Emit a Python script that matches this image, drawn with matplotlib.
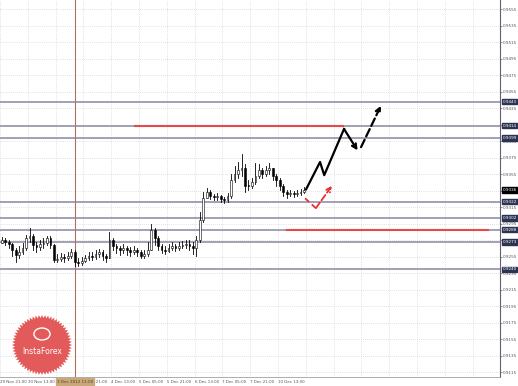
import numpy as np
import matplotlib.pyplot as plt
from matplotlib.patches import Rectangle, Polygon, Circle
import matplotlib.transforms as mtransforms

plt.rcParams['font.family'] = ['Liberation Sans Narrow', 'DejaVu Sans']

# price data (2h bars)
first_open = 0.9272
closes = [0.9275, 0.9273, 0.9271, 0.9263, 0.9257, 0.9261, 0.9266, 0.9278, 0.9280, 0.9269,
          0.9267, 0.9271, 0.9272, 0.9278, 0.9269, 0.9251, 0.9252, 0.9255, 0.9254, 0.9256,
          0.9261, 0.9249, 0.9248, 0.9250, 0.9254, 0.9256, 0.9255, 0.9258, 0.9261, 0.9256,
          0.9254, 0.9275, 0.9268, 0.9266, 0.9263, 0.9266, 0.9263, 0.9261, 0.9263, 0.9261,
          0.9256, 0.9258, 0.9263, 0.9288, 0.9278, 0.9268, 0.9263, 0.9262, 0.9266, 0.9268,
          0.9266, 0.9268, 0.9269, 0.9271, 0.9268, 0.9266, 0.9275, 0.9300, 0.9326, 0.9334,
          0.9329, 0.9328, 0.9329, 0.9325, 0.9324, 0.9329, 0.9348, 0.9355, 0.9360, 0.9363,
          0.9341, 0.9341, 0.9346, 0.9353, 0.9360, 0.9355, 0.9360, 0.9363, 0.9353, 0.9348,
          0.9341, 0.9334, 0.9331, 0.9332, 0.9331, 0.9332, 0.9334, 0.9336]
highs = [0.9279, 0.9278, 0.9275, 0.9272, 0.9266, 0.9268, 0.9272, 0.9282, 0.9290, 0.9283,
         0.9273, 0.9275, 0.9278, 0.9280, 0.9280, 0.9271, 0.9258, 0.9260, 0.9258, 0.9261,
         0.9265, 0.9263, 0.9254, 0.9255, 0.9257, 0.9261, 0.9261, 0.9263, 0.9265, 0.9263,
         0.9258, 0.9285, 0.9278, 0.9271, 0.9268, 0.9271, 0.9268, 0.9267, 0.9268, 0.9266,
         0.9263, 0.9263, 0.9273, 0.9295, 0.9290, 0.9280, 0.9271, 0.9268, 0.9271, 0.9273,
         0.9271, 0.9273, 0.9274, 0.9275, 0.9275, 0.9273, 0.9280, 0.9309, 0.9334, 0.9338,
         0.9336, 0.9331, 0.9332, 0.9330, 0.9328, 0.9332, 0.9355, 0.9365, 0.9370, 0.9380,
         0.9368, 0.9348, 0.9351, 0.9369, 0.9368, 0.9363, 0.9365, 0.9369, 0.9363, 0.9355,
         0.9351, 0.9343, 0.9336, 0.9336, 0.9335, 0.9336, 0.9337, 0.9340]
lows = [0.9272, 0.9269, 0.9266, 0.9256, 0.9249, 0.9254, 0.9258, 0.9263, 0.9273, 0.9263,
        0.9261, 0.9263, 0.9266, 0.9269, 0.9266, 0.9249, 0.9249, 0.9250, 0.9249, 0.9251,
        0.9254, 0.9244, 0.9244, 0.9245, 0.9249, 0.9251, 0.9251, 0.9252, 0.9255, 0.9251,
        0.9249, 0.9254, 0.9263, 0.9260, 0.9257, 0.9260, 0.9257, 0.9256, 0.9258, 0.9256,
        0.9254, 0.9254, 0.9256, 0.9263, 0.9269, 0.9263, 0.9260, 0.9258, 0.9261, 0.9263,
        0.9262, 0.9263, 0.9266, 0.9266, 0.9263, 0.9258, 0.9256, 0.9273, 0.9297, 0.9326,
        0.9325, 0.9324, 0.9324, 0.9321, 0.9320, 0.9321, 0.9326, 0.9346, 0.9351, 0.9353,
        0.9334, 0.9336, 0.9338, 0.9343, 0.9351, 0.9351, 0.9353, 0.9355, 0.9348, 0.9341,
        0.9336, 0.9329, 0.9326, 0.9329, 0.9328, 0.9329, 0.9330, 0.9332]
opens = [first_open] + closes[:-1]

# levels
levels = [0.9443, 0.9414, 0.9399, 0.9322, 0.9302, 0.9288, 0.9273, 0.9240]
current_price = 0.9336
red_levels = [(0.9414, 38.3, 98.2), (0.9288, 82.1, 139.9)]
cursor_bar = 21.1

# forecast paths (bar, price)
path_x = [87.6, 91.6, 92.8, 98.5, 102.4]
path_y = [0.9337, 0.9370, 0.9354, 0.9410, 0.9384]
dash_x = [103.4, 109.1]
dash_y = [0.9388, 0.9438]
red_x = [87.3, 90.4, 95.0]
red_y = [0.9326, 0.9314, 0.9341]

date_labels = ["29 Nov 21:00", "30 Nov 13:00", "3 Dec 05:00", "3 Dec 21:00", "4 Dec 13:00",
               "5 Dec 05:00", "5 Dec 21:00", "6 Dec 13:00", "7 Dec 05:00", "7 Dec 21:00",
               "10 Dec 13:00"]
cursor_label = "3 Dec 2012 11:00"
price_ticks = np.round(np.arange(0.9115, 0.9556, 0.002), 4)

fig = plt.figure(figsize=(5.18, 3.86), dpi=100)
ax = fig.add_axes([0, 9 / 386, 500 / 518, 377 / 386])
ax.set_xlim(-0.5, -0.5 + 500 / 3.475)
ax.set_ylim(0.91094, 0.95663)

# grid
for k in range(0, 18):
    ax.axvline(-0.5 + 8 * k, color='#c8c8c8', lw=0.5, ls=(0, (1, 2)), zorder=0)
for p in price_ticks:
    ax.axhline(p, color='#c8c8c8', lw=0.5, ls=(0, (1, 2)), zorder=0)

for lv in levels:
    ax.axhline(lv, color='#9a9aae', lw=1.3, zorder=1)
for lv, x0, x1 in red_levels:
    ax.plot([x0, x1], [lv, lv], color='#e84848', lw=1.5, zorder=2)

ax.axvline(cursor_bar, color='#b07060', lw=0.8, zorder=1)

# candles
for i in range(len(closes)):
    o, c, h, l = opens[i], closes[i], highs[i], lows[i]
    ax.plot([i, i], [l, h], color='black', lw=0.6, zorder=3)
    bottom = min(o, c)
    height = max(abs(c - o), 0.00005)
    face = 'white' if c > o else 'black'
    ax.add_patch(Rectangle((i - 0.25, bottom), 0.5, height, facecolor=face,
                           edgecolor='black', lw=0.4, zorder=4))

# forecast arrows
ax.plot(path_x[:-1], path_y[:-1], color='black', lw=1.6, zorder=5)
ax.annotate('', xy=(path_x[-1], path_y[-1]), xytext=(path_x[-2], path_y[-2]),
            arrowprops=dict(arrowstyle='->', color='black', lw=1.6, mutation_scale=8,
                            shrinkA=0, shrinkB=0), zorder=5)
ax.annotate('', xy=(dash_x[1], dash_y[1]), xytext=(dash_x[0], dash_y[0]),
            arrowprops=dict(arrowstyle='->', color='black', lw=1.6, ls='--', mutation_scale=8,
                            shrinkA=0, shrinkB=0), zorder=5)
ax.plot(red_x[:-1], red_y[:-1], color='#e83030', lw=1.3, ls=(0, (3, 2)), zorder=5)
ax.annotate('', xy=(red_x[-1], red_y[-1]), xytext=(red_x[-2], red_y[-2]),
            arrowprops=dict(arrowstyle='->', color='#e83030', lw=1.3, ls='--', mutation_scale=8,
                            shrinkA=0, shrinkB=0), zorder=5)

# axes cosmetics
for s in ['top', 'left']:
    ax.spines[s].set_visible(False)
ax.spines['right'].set_color('#606070')
ax.spines['bottom'].set_color('#a0a0a0')
ax.spines['bottom'].set_linewidth(0.6)
ax.yaxis.tick_right()
ax.set_yticks(price_ticks)
ax.set_yticklabels([f"{p:.4f}" for p in price_ticks])
ax.tick_params(axis='y', length=1.5, width=0.5, labelsize=3.0, labelcolor='#555555', pad=0.6,
               color='#606070')
ax.set_xticks([-0.5 + 8 * k for k in range(len(date_labels))])
ax.set_xticklabels(date_labels)
for t in ax.get_xticklabels():
    t.set_ha('left')
ax.tick_params(axis='x', length=0, labelsize=2.9, labelcolor='#555555', pad=2)

# right side level labels
trans = mtransforms.blended_transform_factory(ax.transAxes, ax.transData)
for lv in levels:
    ax.text(1.005, lv, f"{lv:.4f}", transform=trans, fontsize=3.0, color='white',
            va='center', ha='left', zorder=10, clip_on=False,
            bbox=dict(boxstyle='square,pad=0.15', fc='#2c3450', ec='#2c3450'))
ax.text(1.005, current_price, f"{current_price:.4f}", transform=trans, fontsize=3.0,
        color='white', va='center', ha='left', zorder=10, clip_on=False,
        bbox=dict(boxstyle='square,pad=0.15', fc='black', ec='black'))

# cursor time label
ax.text(cursor_bar, -0.012, cursor_label, transform=mtransforms.blended_transform_factory(
    ax.transData, ax.transAxes), fontsize=3.0, color='#5a4020', ha='center', va='center',
    clip_on=False, zorder=10, bbox=dict(boxstyle='square,pad=0.25', fc='#c8a878', ec='#c8a878'))

# logo
cx, cy, r = 42 / 518, 1 - 345 / 386, 30
ang = np.linspace(0, 2 * np.pi, 121)[:-1]
rad = np.where(np.arange(120) % 2 == 0, r, r * 0.9)
px = cx * 518 + rad * np.cos(ang)
py = cy * 386 + rad * np.sin(ang)
fig.patches.append(Polygon(np.c_[px / 518, py / 386], closed=True, transform=fig.transFigure,
                           fc='#e04848', ec='none', alpha=0.9, zorder=20))
fig.patches.append(Circle((cx, cy + 11 / 386), 6 / 386, transform=fig.transFigure,
                          fc='none', ec='white', lw=1.0, zorder=21))
fig.text(cx, cy - 6 / 386, "InstaForex", fontsize=5.5, color='white', ha='center',
         va='center', zorder=22)

fig.savefig('out.png', dpi=100)
